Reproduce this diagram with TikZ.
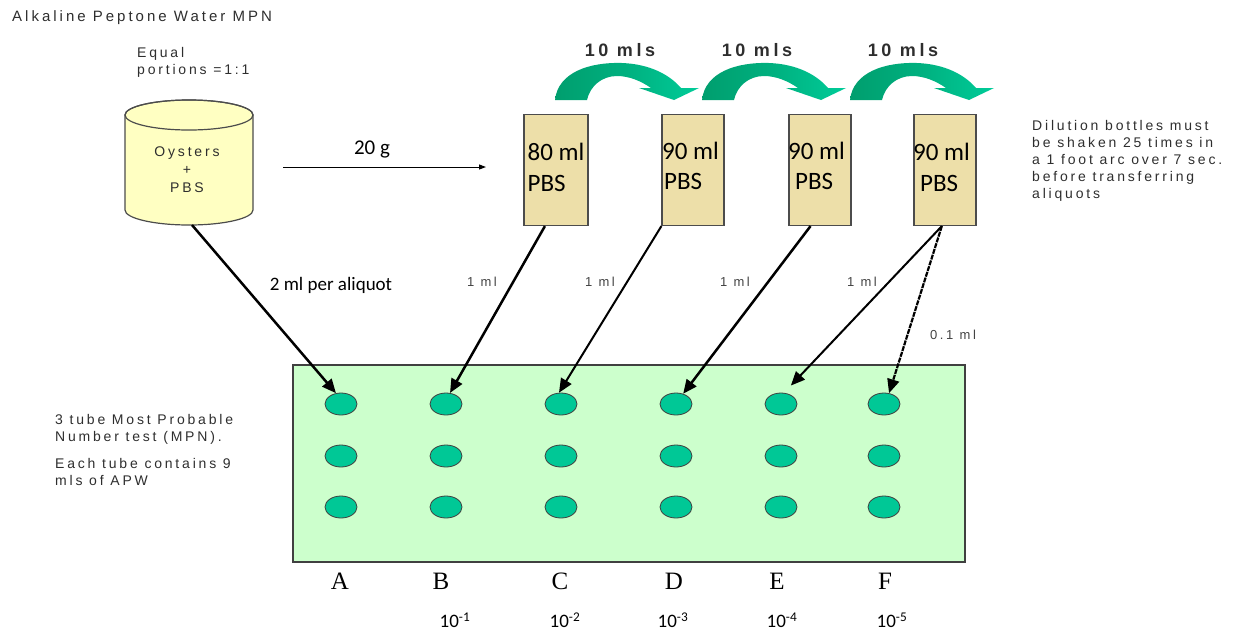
\documentclass[tikz,border=0pt]{standalone}
\usepackage{fontspec}
\setmainfont{Liberation Sans}
\newfontfamily\spsans[LetterSpace=20]{Liberation Sans}
\newfontfamily\calib{Carlito}
\newfontfamily\timesf{Liberation Serif}
\usetikzlibrary{arrows.meta,shapes.geometric,calc}

\definecolor{cylfill}{HTML}{FFFFC2}
\definecolor{bottlefill}{HTML}{EDDFA9}
\definecolor{trayfill}{HTML}{CCFFCC}
\definecolor{tubefill}{HTML}{00C896}
\definecolor{arrowdark}{HTML}{009E6E}
\definecolor{arrowlight}{HTML}{00CC99}
\definecolor{inkgray}{HTML}{2E2E2E}

\tikzset{
  smalltext/.style={font=\spsans\fontsize{14}{17}\selectfont, text=inkgray, inner sep=0pt},
  mltext/.style={font=\spsans\fontsize{13}{14}\selectfont, text=inkgray!90, inner sep=0pt},
  transfertext/.style={font=\spsans\bfseries\fontsize{18}{20}\selectfont, text=inkgray, inner sep=0pt},
  bottle/.style={draw=black!70, line width=1.2pt, fill=bottlefill, minimum width=64pt,
    minimum height=111pt, inner sep=0pt, align=left, font=\calib\fontsize{25}{31}\selectfont},
  bottletext/.style={font=\calib\fontsize{25}{31}\selectfont, inner sep=0pt, anchor=west},
  tube/.style={ellipse, draw=black!75, line width=0.8pt, fill=tubefill, minimum width=32pt,
    minimum height=22pt, inner sep=0pt},
  collabel/.style={font=\timesf\fontsize{25}{28}\selectfont, inner sep=0pt},
  dilution/.style={font=\calib\fontsize{19}{22}\selectfont, inner sep=0pt},
  aliquot/.style={line width=2.5pt, -{Triangle[length=14pt,width=12pt]}},
  transfer/.pic={
    \shade[left color=arrowdark, right color=arrowlight, middle color=arrowdark!60!arrowlight]
      (0,100) .. controls (3,72) and (35,62) .. (67,63)
      .. controls (95,64) and (115,75) .. (126,88)
      -- (144,88) -- (119,100) -- (84,88) -- (96,88)
      .. controls (86,81) and (74,76) .. (62,76)
      .. controls (47,76) and (35,86) .. (32,100) -- cycle;
  }
}

\begin{document}
\begin{tikzpicture}[x=1pt,y=-1pt]
\useasboundingbox (0,0) rectangle (1253,633);

% heading and side notes
\node[smalltext, font=\spsans\fontsize{15}{17}\selectfont, anchor=west] (title) at (12,18) {Alkaline Peptone Water MPN};
\node[smalltext, anchor=north west, align=left] (equal) at (137,47) {Equal\\portions =1:1};
\node[smalltext, anchor=north west, align=left] (note) at (1032,120)
  {Dilution bottles must\\be shaken 25 times in\\a 1 foot arc over 7 sec.\\before transferring\\aliquots};
\node[smalltext, anchor=north west, align=left] (mpn) at (55,414) {3 tube Most Probable\\Number test (MPN).};
\node[smalltext, anchor=north west, align=left] (apw) at (55,458) {Each tube contains 9\\mls of APW};

% sample container
\draw[draw=black!70, line width=1.2pt, fill=cylfill]
  (125,115) -- (125,210) arc[start angle=180, end angle=0, x radius=64, y radius=15]
  -- (253,115) arc[start angle=0, end angle=-180, x radius=64, y radius=15] -- cycle;
\draw[draw=black!70, line width=1.2pt] (189,115) ellipse[x radius=64, y radius=15];
\node[smalltext, align=center, font=\spsans\fontsize{14}{18}\selectfont] (cyl) at (187,170) {Oysters\\+\\PBS};
\coordinate (cylbot) at (192,225);

% weighing step
\node[dilution, font=\calib\fontsize{21}{24}\selectfont] (gram) at (372,149) {20 g};
\coordinate (gstart) at (283,167);
\coordinate (gend) at (486,167);
\draw[line width=1pt, -{Triangle[length=7pt,width=5pt]}] (gstart) -- (gend);

% dilution bottles
\node[bottle] (b1) at (556,170) {\raisebox{4pt}{\begin{tabular}{@{}l@{}}80 ml\\PBS\end{tabular}}};
\node[bottle, minimum width=62pt] (b2) at (693,170) {};
\node[bottle, minimum width=62pt] (b3) at (820,170) {};
\node[bottle, minimum width=62pt] (b4) at (945,170) {};
\node[bottletext] (t2a) at (662,151) {90 ml};
\node[bottletext] (t2b) at (664,181) {PBS};
\node[bottletext] (t3a) at (788,151) {90 ml};
\node[bottletext] (t3b) at (795,181) {PBS};
\node[bottletext] (t4a) at (913,152) {90 ml};
\node[bottletext] (t4b) at (920,183) {PBS};

% serial transfers
\pic at (555,0) {transfer};
\pic at (702,0) {transfer};
\pic at (850,0) {transfer};
\node[transfertext] (m1) at (620,50) {10 mls};
\node[transfertext] (m2) at (757,50) {10 mls};
\node[transfertext] (m3) at (903,50) {10 mls};

% MPN tube rack
\node[draw=black!75, line width=1.2pt, fill=trayfill, minimum width=672pt, minimum height=197pt, inner sep=0pt] (tray) at (629,463.5) {};
\foreach \c/\x in {A/341,B/446,C/561,D/676,E/781,F/884}{
  \foreach \r/\y in {1/404,2/456,3/507}{
    \node[tube] (d\c\r) at (\x,\y) {};
  }
}

% column letters and dilution factors
\node[collabel] (lA) at (340,581) {A};
\node[collabel] (lB) at (441,581) {B};
\node[collabel] (lC) at (560,581) {C};
\node[collabel] (lD) at (674,581) {D};
\node[collabel] (lE) at (777,581) {E};
\node[collabel] (lF) at (885,581) {F};
\node[dilution] (xB) at (455,620) {10\textsuperscript{-1}};
\node[dilution] (xC) at (565,620) {10\textsuperscript{-2}};
\node[dilution] (xD) at (673,620) {10\textsuperscript{-3}};
\node[dilution] (xE) at (782,620) {10\textsuperscript{-4}};
\node[dilution] (xF) at (892,620) {10\textsuperscript{-5}};

% inoculation arrows
\coordinate (s1) at ($(b1.south west)!0.33!(b1.south east)$);
\coordinate (s3) at ($(b3.south west)!0.35!(b3.south east)$);
\coordinate (s4) at ($(b4.south west)!0.45!(b4.south east)$);
\draw[aliquot] (cylbot) -- (dA1.115);
\draw[aliquot] (s1) -- (dB1.70);
\draw[aliquot, line width=2pt] (b2.south west) -- (dC1.100);
\draw[aliquot] (s3) -- (dD1.55);
\draw[aliquot, line width=2pt, shorten >=10pt] (s4) -- (dE1.75);
\draw[aliquot, line width=2.2pt, dash pattern=on 5pt off 1pt] (s4) -- (dF1.65);

% volume labels
\node[dilution] (twoml) at (331,285) {2 ml per aliquot};
\node[mltext] (v1) at (482,282) {1 ml};
\node[mltext] (v2) at (600,282) {1 ml};
\node[mltext] (v3) at (735,282) {1 ml};
\node[mltext] (v4) at (862,282) {1 ml};
\node[mltext] (v5) at (953,335) {0.1 ml};
\end{tikzpicture}
\end{document}
